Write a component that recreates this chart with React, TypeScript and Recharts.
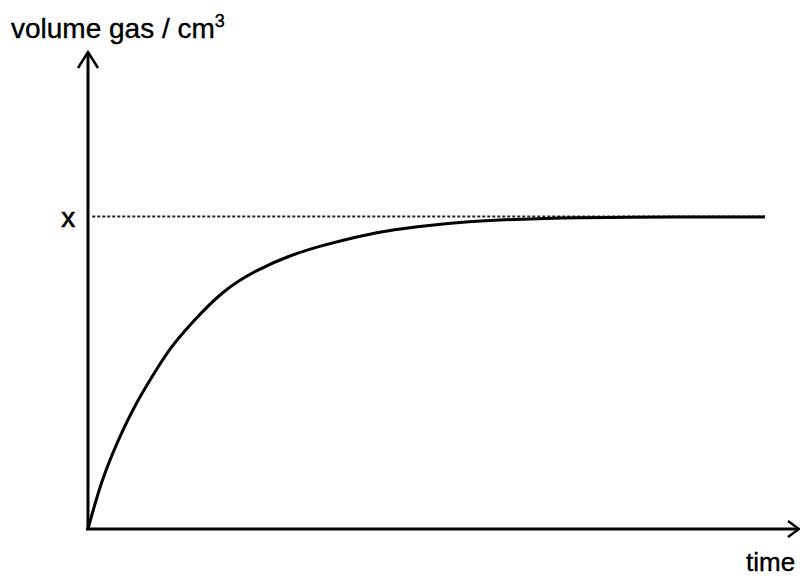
import { LineChart, Line, XAxis, YAxis, ReferenceLine } from "recharts";

// readings (arbitrary units, axes run 0..100)
const timeValues = [0, 1.9, 4.3, 6.6, 9.0, 11.3, 14.3, 19.0, 23.7, 28.4, 33.1, 37.8, 42.5, 50.9, 57.9, 65, 74.8, 95.2];
const gasVolume = [0, 10.3, 18.9, 26.0, 31.9, 37.5, 42.8, 50.1, 54.3, 57.4, 59.5, 61.3, 62.7, 64.2, 64.8, 65.2, 65.4, 65.4];
const finalVolume = 65.5;
const axisMax = 100;

const data = timeValues.map((t, i) => ({ time: t, volume: gasVolume[i] }));

const FONT = '"Liberation Sans", Arial, Helvetica, sans-serif';

const XArrow = (props: any) => {
  const { x1, y1, x2, y2 } = props;
  return (
    <g stroke="#000" strokeWidth={3} fill="none">
      <line x1={x1 - 2} y1={y1} x2={x2} y2={y2} />
      <polyline points={`${x2 - 11},${y2 - 8} ${x2},${y2} ${x2 - 11},${y2 + 8}`} strokeWidth={2.5} />
    </g>
  );
};

const YArrow = (props: any) => {
  const { x1, y1, x2, y2 } = props;
  return (
    <g stroke="#000" strokeWidth={3} fill="none">
      <line x1={x1} y1={y1 + 1} x2={x2} y2={y2} />
      <polyline points={`${x2 - 10},${y2 + 16} ${x2},${y2} ${x2 + 10},${y2 + 16}`} strokeWidth={2.5} />
    </g>
  );
};

export default function App() {
  return (
    <div style={{ position: "absolute", left: 0, top: 0, width: 800, height: 580, background: "#fff" }}>
      <LineChart
        width={800}
        height={580}
        data={data}
        margin={{ top: 52, right: 1, bottom: 51, left: 88 }}
      >
        <XAxis dataKey="time" type="number" domain={[0, axisMax]} hide />
        <YAxis type="number" domain={[0, axisMax]} hide />

        <ReferenceLine
          segment={[{ x: 0.6, y: finalVolume }, { x: 95.2, y: finalVolume }]}
          stroke="#222"
          strokeWidth={2}
          strokeDasharray="3 2"
          ifOverflow="visible"
          label={{
            value: "x",
            position: "left",
            offset: 17,
            style: { fontFamily: FONT, fontSize: 28, fill: "#000", stroke: "#000", strokeWidth: 0.6 },
          }}
        />

        <Line
          type="basis"
          dataKey="volume"
          stroke="#000"
          strokeWidth={3}
          dot={false}
          isAnimationActive={false}
        />

        <ReferenceLine
          segment={[{ x: 0, y: 0 }, { x: axisMax, y: 0 }]}
          ifOverflow="visible"
          shape={XArrow}
        />
        <ReferenceLine
          segment={[{ x: 0, y: 0 }, { x: 0, y: axisMax }]}
          ifOverflow="visible"
          shape={YArrow}
        />
      </LineChart>
      <svg
        width={800}
        height={580}
        style={{ position: "absolute", left: 0, top: 0, pointerEvents: "none" }}
      >
        <text x={11} y={38} fontFamily={FONT} fontSize={28} fill="#000" stroke="#000" strokeWidth={0.4}>
          volume gas / cm
          <tspan dy={-11} fontSize={18}>3</tspan>
        </text>
        <text x={746} y={571} fontFamily={FONT} fontSize={26} fill="#000" stroke="#000" strokeWidth={0.4}>
          time
        </text>
      </svg>
    </div>
  );
}
